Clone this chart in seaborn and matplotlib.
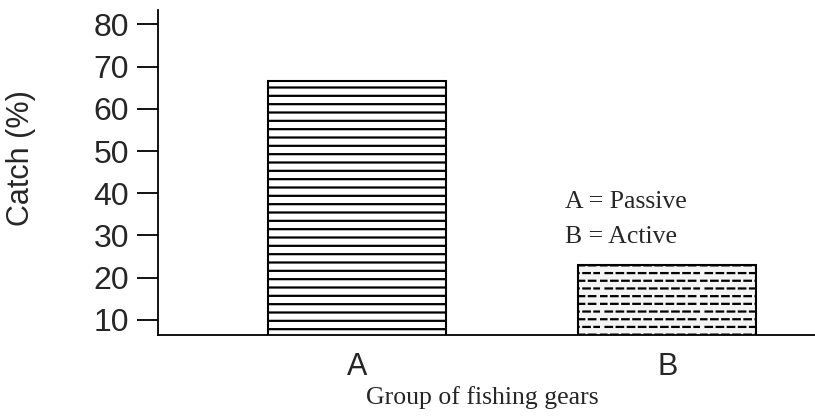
import warnings
import numpy as np
import matplotlib
matplotlib.use("Agg")
import matplotlib.pyplot as plt
import matplotlib.hatch as mhatch
from matplotlib.path import Path
import seaborn as sns

# data
groups = ["A", "B"]
catch = [66.6, 23.0]
yticks = [10, 20, 30, 40, 50, 60, 70, 80]
legend_lines = ["A = Passive", "B = Active"]


# staggered short dashes, like the Word "dashed horizontal" fill
class DashHatch(mhatch.HatchPatternBase):
    def __init__(self, hatch, density):
        self.rows = 13 if "d" in hatch else 0
        self.cols = 9
        self.num_vertices = self.rows * self.cols * 2

    def set_vertices_and_codes(self, vertices, codes):
        dy = 1.0 / self.rows
        dx = 1.0 / self.cols
        i = 0
        for r in range(self.rows):
            y = (r + 0.5) * dy
            off = 0.0 if r % 2 == 0 else dx / 2
            for c in range(self.cols):
                x0 = (c * dx + off) % 1.0
                x1 = min(x0 + dx * 0.58, 1.0)
                vertices[i] = (x0, y)
                vertices[i + 1] = (x1, y)
                codes[i] = Path.MOVETO
                codes[i + 1] = Path.LINETO
                i += 2


mhatch._hatch_types.append(DashHatch)
warnings.filterwarnings("ignore")

sns.set_style("white")
plt.rcParams["hatch.linewidth"] = 1.6

fig = plt.figure(figsize=(8.15, 4.16), dpi=100)
ax = fig.add_axes([0.194, 0.195, 0.806, 0.781])

sns.barplot(x=groups, y=catch, ax=ax, width=0.574, color="white",
            edgecolor="black", linewidth=1.5)

fills = ["white", "#f4f4f4"]
hatches = ["--", "d"]
for bar, fc, h in zip(ax.patches, fills, hatches):
    bar.set_facecolor(fc)
    bar.set_hatch(h)
    bar.set_edgecolor("black")

ax.set_xlim(-0.642, 1.477)
ax.set_ylim(6.45, 83.4)
ax.set_yticks(yticks)

sans = ["Liberation Sans", "DejaVu Sans"]
serif = ["Liberation Serif", "DejaVu Serif"]
ax.set_yticklabels([str(t) for t in yticks], family=sans, fontsize=23)
ax.set_xticklabels(groups, family=sans, fontsize=22)
ax.tick_params(axis="y", length=15, width=1.3, pad=6, color="black", left=True)
ax.tick_params(axis="x", length=0, pad=12)

for side in ["top", "right"]:
    ax.spines[side].set_visible(False)
for side in ["left", "bottom"]:
    ax.spines[side].set_color("black")
    ax.spines[side].set_linewidth(1.3)

ax.set_ylabel("")
ax.set_xlabel("")
fig.text(0.026, 0.62, "Catch (%)", rotation=90, family=sans, fontsize=22,
         ha="center", va="center")
fig.text(0.592, 0.045, "Group of fishing gears", family=serif, fontsize=18.5,
         ha="center", va="center")
for k, line in enumerate(legend_lines):
    ax.text(0.62, 0.391 - k * 0.108, line, transform=ax.transAxes,
            family=serif, fontsize=18.5, ha="left", va="baseline")

fig.savefig("out.png", dpi=100)
